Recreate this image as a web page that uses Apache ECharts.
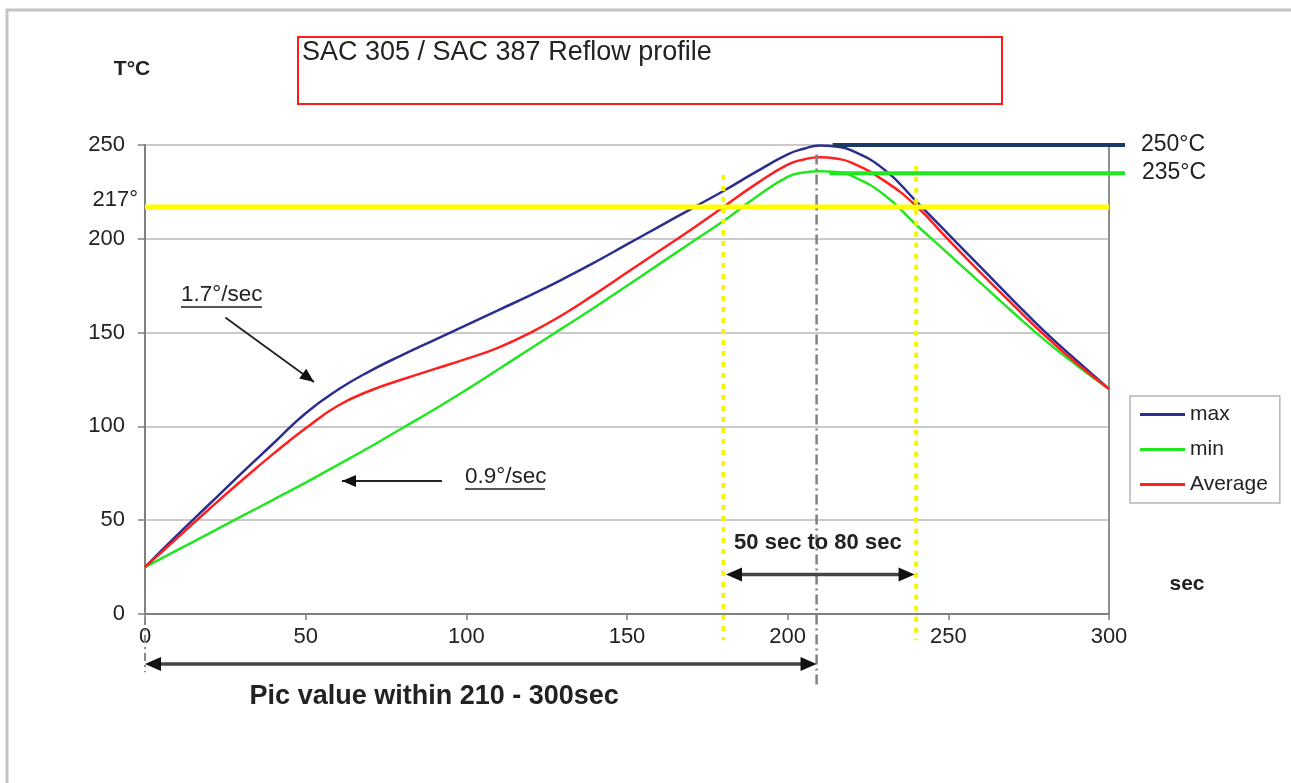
<!DOCTYPE html>
<html>
<head>
<meta charset="utf-8">
<script src="https://cdn.jsdelivr.net/npm/echarts@6/dist/echarts.min.js"></script>
<style>
html,body{margin:0;padding:0;background:#fff;}
#c{width:1291px;height:783px;}
</style>
</head>
<body>
<div id="c"></div>
<script>
// time in seconds
const times   = [0,10,20,30,40,50,60,70,80,90,100,110,120,130,140,150,160,170,180,190,200,205,210,215,220,230,240,250,260,270,280,290,300];
const maxTemp = [25,42,58.5,75,91,107,119.5,129.5,138,146,154,162,170,178.5,187.5,197,206.5,216,225.5,235.5,245,248,249.8,249.2,247,237,220,202.5,185,167.5,150.5,135,120];
const minTemp = [25,34,43,52,61,70,79.5,89,99,109,119.5,130.5,141.5,152.5,163.5,175,186.5,198,209.5,222,233,235.3,236,235.6,233.5,223.5,207.5,192,176.5,161,146,132.5,120];
const avgTemp = [25,40.5,56,71,85.5,99,111,119,125,130.5,136,142,150,159.5,170.5,182,193.5,205,217,229,239.5,242.3,243.5,242.8,240.5,231,217.5,199.5,182,165,148.5,133.5,120];
const xTicks = [0,50,100,150,200,250,300];
const yTicks = [0,50,100,150,200,250];
const liquidus = 217, peakMax = 250, peakMin = 235;
const tal = [180, 240], peakTime = 209;

const FONT = '"Liberation Sans", Arial, sans-serif';
const pairs = arr => times.map((t,i) => [t, arr[i]]);

const chart = echarts.init(document.getElementById('c'));
const option = {
  backgroundColor: '#fff',
  animation: false,
  grid: {left:145, right:182, top:145, bottom:169},
  legend: {
    data: ['max','min','Average'],
    orient: 'vertical', left: 1130, top: 396,
    icon: 'rect',
    backgroundColor: '#fff', borderColor: '#b5b5b5', borderWidth: 1.5,
    padding: [8,12,8,10], itemWidth: 45, itemHeight: 3, itemGap: 14,
    textStyle: {fontSize: 21, color: '#222', fontFamily: FONT}
  },
  xAxis: {
    type: 'value', min: xTicks[0], max: xTicks[xTicks.length-1], interval: 50,
    axisLine: {show: true, lineStyle: {color: '#808080', width: 2}},
    axisTick: {show: true, length: 6, lineStyle: {color: '#808080', width: 1.5}},
    axisLabel: {fontSize: 22, color: '#222', margin: 12, fontFamily: FONT},
    splitLine: {show: false}
  },
  yAxis: [{
    type: 'value', min: yTicks[0], max: yTicks[yTicks.length-1], interval: 50,
    axisLine: {show: true, lineStyle: {color: '#808080', width: 2}},
    axisTick: {show: true, length: 7, lineStyle: {color: '#808080', width: 1.5}},
    axisLabel: {fontSize: 22, color: '#222', margin: 20, fontFamily: FONT},
    splitLine: {show: true, lineStyle: {color: '#b8b8b8', width: 1.5}}
  },{
    type: 'value', position: 'right', min: 0, max: 250, interval: 50,
    axisLine: {show: true, lineStyle: {color: '#909090', width: 2}},
    axisTick: {show: false}, axisLabel: {show: false}, splitLine: {show: false}
  }],
  series: [
    {name:'max', type:'line', data: pairs(maxTemp), smooth: 0.5, symbol:'none',
     lineStyle:{color:'#2b2e8e', width:2.5}, itemStyle:{color:'#2b2e8e'}},
    {name:'min', type:'line', data: pairs(minTemp), smooth: 0.5, symbol:'none',
     lineStyle:{color:'#22e622', width:2.5}, itemStyle:{color:'#22e622'}},
    {name:'Average', type:'line', data: pairs(avgTemp), smooth: 0.5, symbol:'none',
     lineStyle:{color:'#ff1f1f', width:2.5}, itemStyle:{color:'#ff1f1f'}}
  ]
};
chart.setOption(option);

const P = (x,y) => chart.convertToPixel({xAxisIndex:0, yAxisIndex:0}, [x,y]);
const els = [];
function seg(a, b, style, z) {
  els.push({type:'line', z: z||10, shape:{x1:a[0], y1:a[1], x2:b[0], y2:b[1]}, style: Object.assign({fill:null}, style)});
}
function head(tip, from, color, L, W) {
  const dx = tip[0]-from[0], dy = tip[1]-from[1], d = Math.hypot(dx,dy);
  const ux = dx/d, uy = dy/d, nx = -uy, ny = ux;
  const bx = tip[0]-ux*L, by = tip[1]-uy*L;
  els.push({type:'polygon', z:11, shape:{points:[[tip[0],tip[1]],[bx+nx*W,by+ny*W],[bx-nx*W,by-ny*W]]}, style:{fill:color}});
}
function text(x, y, str, opt) {
  els.push({type:'text', z:12, x:x, y:y, style: Object.assign({text:str, fontFamily:FONT, fontSize:22, fill:'#222', align:'left', verticalAlign:'middle'}, opt)});
}

// outer frame and title box
els.push({type:'rect', z:1, shape:{x:7, y:10, width:1300, height:800}, style:{fill:null, stroke:'#c4c4c4', lineWidth:3}});
els.push({type:'rect', z:5, shape:{x:298, y:37, width:704, height:67}, style:{fill:null, stroke:'#ff1a1a', lineWidth:2}});
text(302, 53, 'SAC 305 / SAC 387 Reflow profile', {fontSize:27});
text(132, 69, 'T°C', {fontSize:21, fontWeight:'bold', align:'center'});
text(1187, 584, 'sec', {fontSize:21, fontWeight:'bold', align:'center'});

// liquidus line
seg(P(0,liquidus), P(300,liquidus), {stroke:'#ffff00', lineWidth:5});
const l217 = P(0,liquidus);
text(l217[0]-7, l217[1]-7, '217°', {align:'right', fontSize:22});

// peak lines
const pm1 = P(214,peakMax), pm2 = P(300,peakMax);
seg(pm1, [pm2[0]+16, pm2[1]], {stroke:'#1b3b66', lineWidth:4});
text(pm2[0]+32, pm2[1], '250°C', {fontSize:23});
const pn1 = P(213,peakMin), pn2 = P(300,peakMin);
seg(pn1, [pn2[0]+16, pn2[1]], {stroke:'#1ee81e', lineWidth:4});
text(pn2[0]+33, pn2[1], '235°C', {fontSize:23});

// TAL dotted verticals
seg(P(tal[0],234), P(tal[0],-14), {stroke:'#f5f500', lineWidth:4, lineDash:[5,6]});
seg(P(tal[1],239), P(tal[1],-14), {stroke:'#f5f500', lineWidth:4, lineDash:[5,6]});

// peak time dash-dot
seg(P(peakTime,245), P(peakTime,-39), {stroke:'#808080', lineWidth:2.5, lineDash:[10,4,2,4]});
seg(P(0,8), P(0,-31), {stroke:'#8a8a8a', lineWidth:2, lineDash:[8,4,2,4]});

// 50-80 sec double arrow
const a1 = P(tal[0]+0.8,21), a2 = P(tal[1]-0.5,21);
seg([a1[0]+10,a1[1]], [a2[0]-10,a2[1]], {stroke:'#444', lineWidth:3.5});
head(a1, a2, '#111', 16, 7); head(a2, a1, '#111', 16, 7);
const t1 = P(209.4, 37.8);
text(t1[0], t1[1], '50 sec to 80 sec', {fontSize:22, fontWeight:'bold', align:'center'});

// peak window double arrow
const b1 = P(0,-26.7), b2 = P(peakTime,-26.7);
seg([b1[0]+10,b1[1]], [b2[0]-10,b2[1]], {stroke:'#444', lineWidth:3.5});
head(b1, b2, '#111', 16, 7); head(b2, b1, '#111', 16, 7);
const t2 = P(90,-44);
text(t2[0], t2[1], 'Pic value within 210 - 300sec', {fontSize:27, fontWeight:'bold', align:'center'});

// ramp rate labels
const r1 = P(11.2,170);
text(r1[0], r1[1], '1.7°/sec', {fontSize:22.5});
seg([r1[0], r1[1]+12], [r1[0]+81, r1[1]+12], {stroke:'#555', lineWidth:2});
const c1 = P(25,158), c2 = P(52.6,123.7);
seg(c1, c2, {stroke:'#222', lineWidth:1.8});
head(c2, c1, '#111', 14, 6);

const r2 = P(99.6,73);
text(r2[0], r2[1], '0.9°/sec', {fontSize:22.5});
seg([r2[0], r2[1]+12], [r2[0]+80, r2[1]+12], {stroke:'#555', lineWidth:2});
const d1 = P(92.4,70.9), d2 = P(61.3,70.9);
seg(d1, d2, {stroke:'#222', lineWidth:1.8});
head(d2, d1, '#111', 14, 6);

chart.setOption({graphic: {elements: els}});
</script>
</body>
</html>
